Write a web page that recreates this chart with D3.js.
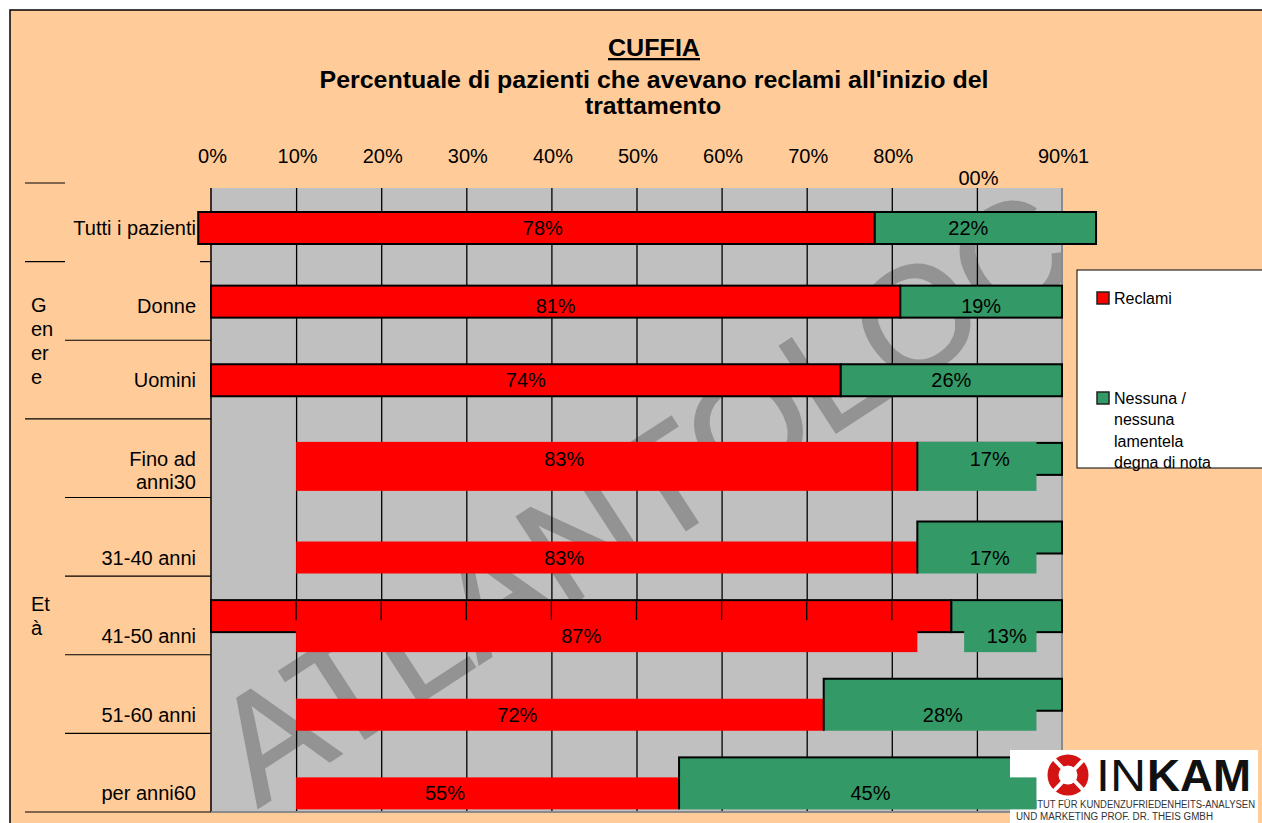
<!DOCTYPE html>
<html>
<head>
<meta charset="utf-8">
<script src="https://cdn.jsdelivr.net/npm/d3@7"></script>
<style>
  body { margin: 0; background: #fff; }
  text { font-family: "Liberation Sans", Arial, sans-serif; fill: #000; }
</style>
</head>
<body>
<script>
// values
var categories = ["Tutti i pazienti", "Donne", "Uomini", "Fino ad\nanni30", "31-40 anni", "41-50 anni", "51-60 anni", "per anni60"];
var reclami = [78, 81, 74, 83, 83, 87, 72, 55];
var nessuna = [22, 19, 26, 17, 17, 13, 28, 45];
var tickValues = [0, 10, 20, 30, 40, 50, 60, 70, 80, 90, 100];
var tickLabels = ["0%", "10%", "20%", "30%", "40%", "50%", "60%", "70%", "80%", "00%", "90%1"];
var groupLabels = [[], ["G", "en", "er", "e"], ["Et", "à"]];
var groupSizes = [1, 2, 5];
var seriesNames = ["Reclami", "Nessuna /\nnessuna\nlamentela\ndegna di nota"];

var RED = "#FF0000", GREEN = "#339966", GRAY = "#C0C0C0", PEACH = "#FFCC99";
var FS = 20;

var svg = d3.select("body").append("svg").attr("width", 1262).attr("height", 823);

svg.append("rect").attr("x", 10).attr("y", 10).attr("width", 1262).attr("height", 823)
    .attr("fill", PEACH).attr("stroke", "#000").attr("stroke-width", 1.5);

var plotTop = 188, plotBottom = 812;
var x = d3.scaleLinear().domain([0, 100]).range([211, 1062]);
var y = d3.scaleBand().domain(categories).range([183, 812]);

// title
svg.append("text").attr("x", 654).attr("y", 56).attr("text-anchor", "middle")
    .attr("font-size", 23).attr("font-weight", "bold").attr("text-decoration", "underline")
    .attr("textLength", 92).attr("lengthAdjust", "spacingAndGlyphs").text("CUFFIA");
svg.append("text").attr("x", 654).attr("y", 88).attr("text-anchor", "middle")
    .attr("font-size", 23).attr("font-weight", "bold")
    .attr("textLength", 669).attr("lengthAdjust", "spacingAndGlyphs")
    .text("Percentuale di pazienti che avevano reclami all'inizio del");
svg.append("text").attr("x", 653).attr("y", 114).attr("text-anchor", "middle")
    .attr("font-size", 23).attr("font-weight", "bold")
    .attr("textLength", 136).attr("lengthAdjust", "spacingAndGlyphs").text("trattamento");

// plot background
svg.append("rect").attr("x", x(0)).attr("y", plotTop).attr("width", x(100) - x(0)).attr("height", plotBottom - plotTop)
    .attr("fill", GRAY);

svg.append("clipPath").attr("id", "plotclip").append("rect")
    .attr("x", x(0)).attr("y", plotTop).attr("width", x(100) - x(0)).attr("height", plotBottom - plotTop);

// watermark
svg.append("g").attr("clip-path", "url(#plotclip)")
  .append("text")
    .attr("transform", "translate(258,808) rotate(-33)")
    .attr("font-size", 150).style("fill", "#939393")
    .attr("stroke", "#939393").attr("stroke-width", 2)
    .attr("textLength", 985).attr("lengthAdjust", "spacing")
    .text("ATLANTOLOC");

// gridlines
var grid = svg.append("g").attr("transform", "translate(0," + plotTop + ")")
    .call(d3.axisTop(x).tickValues(d3.range(10, 100, 10)).tickSize(-(plotBottom - plotTop)).tickFormat(""));
grid.select(".domain").remove();
grid.selectAll("line").attr("stroke", "#000").attr("stroke-width", 1.3);

svg.append("line").attr("x1", x(0)).attr("x2", x(0)).attr("y1", plotTop).attr("y2", plotBottom)
    .attr("stroke", "#000").attr("stroke-width", 1.5);
svg.append("line").attr("x1", x(100)).attr("x2", x(100)).attr("y1", plotTop).attr("y2", plotBottom + 1)
    .attr("stroke", "#8a8a8a").attr("stroke-width", 2);
svg.append("line").attr("x1", x(0)).attr("x2", x(100)).attr("y1", plotBottom).attr("y2", plotBottom)
    .attr("stroke", "#8a8a8a").attr("stroke-width", 2);

// tick labels
var ax = svg.append("g").attr("transform", "translate(1,163)")
    .call(d3.axisTop(x).tickValues(tickValues).tickSize(0).tickPadding(0)
      .tickFormat(function(d, i) { return tickLabels[i]; }));
ax.select(".domain").remove();
ax.selectAll("text").attr("font-size", FS).attr("font-family", "Liberation Sans, Arial, sans-serif")
    .attr("dy", function(d) { return d === 90 ? 22 : 0; });

// row separators and category labels
var bounds = d3.range(categories.length + 1).map(function(i) {
  return i < categories.length ? y(categories[i]) : y.range()[1];
});
var groupStarts = [0];
groupSizes.forEach(function(s, i) { groupStarts.push(groupStarts[i] + s); });

bounds.forEach(function(b, i) {
  var isGroup = groupStarts.indexOf(i) >= 0;
  var x1 = isGroup ? 25 : 65;
  var x2 = (i <= 1) ? 65 : x(0);
  svg.append("line").attr("x1", x1).attr("x2", x2).attr("y1", b).attr("y2", b)
      .attr("stroke", "#000").attr("stroke-width", 1.2);
  if (i === 1) {
    svg.append("line").attr("x1", 200).attr("x2", x(0)).attr("y1", b).attr("y2", b)
        .attr("stroke", "#000").attr("stroke-width", 1.2);
  }
});

groupLabels.forEach(function(lines, gi) {
  if (!lines.length) return;
  var y0 = bounds[groupStarts[gi]], y1 = bounds[groupStarts[gi + 1]];
  var cy = (y0 + y1) / 2 - (lines.length - 1) * 12 + 1;
  svg.append("text").attr("x", 31).attr("font-size", FS)
    .selectAll("tspan").data(lines).enter().append("tspan")
      .attr("x", 31).attr("y", function(d, i) { return cy + i * 24; })
      .attr("dominant-baseline", "central")
      .text(function(d) { return d; });
});

// row layout (the original render has the age rows drawn twice, slightly offset)
function barTop(i) { return y(categories[i]) + (i === 0 ? 29 : 24); }
var barH = 32;
function labelY(i) { return barTop(i) + barH / 2 + (i >= 4 ? 20 : 0) + (i === 1 ? 4 : 0); }

categories.forEach(function(c, i) {
  var lines = c.split("\n");
  var ly = labelY(i);
  svg.append("text").attr("text-anchor", "end").attr("font-size", FS)
    .selectAll("tspan").data(lines).enter().append("tspan")
      .attr("x", 196).attr("y", function(d, k) { return ly + k * 23; })
      .attr("dominant-baseline", "central")
      .text(function(d) { return d; });
});

// main bars
var bars = svg.append("g");
categories.forEach(function(c, i) {
  var t = barTop(i);
  var x0 = i === 0 ? x(-1.5) : x(0);
  var xEnd = i === 0 ? x(104) : x(100);
  var drawRed = (i < 3 || i === 5);
  if (drawRed) {
    bars.append("rect").attr("x", x0).attr("y", t).attr("width", x(reclami[i]) - x0).attr("height", barH)
        .attr("fill", RED).attr("stroke", "#000").attr("stroke-width", 2);
  }
  bars.append("rect").attr("x", x(reclami[i])).attr("y", t).attr("width", xEnd - x(reclami[i])).attr("height", barH)
      .attr("fill", GREEN).attr("stroke", "#000").attr("stroke-width", 2);
});

// logo
var logo = svg.append("g");
logo.append("rect").attr("x", 1010).attr("y", 750).attr("width", 248).attr("height", 73).attr("fill", "#fff");
logo.append("circle").attr("cx", 1068).attr("cy", 775).attr("r", 15)
    .attr("fill", "none").attr("stroke", "#D41414").attr("stroke-width", 11);
logo.append("line").attr("x1", 1052).attr("y1", 757).attr("x2", 1086).attr("y2", 793)
    .attr("stroke", "#fff").attr("stroke-width", 4);
logo.append("line").attr("x1", 1086).attr("y1", 757).attr("x2", 1052).attr("y2", 793)
    .attr("stroke", "#fff").attr("stroke-width", 4);
logo.append("text").attr("x", 1096).attr("y", 791).attr("font-size", 44)
    .attr("textLength", 50).attr("lengthAdjust", "spacingAndGlyphs").style("fill", "#111").text("IN");
logo.append("text").attr("x", 1147).attr("y", 791).attr("font-size", 44).attr("font-weight", "bold")
    .attr("textLength", 104).attr("lengthAdjust", "spacingAndGlyphs").style("fill", "#111").text("KAM");
logo.append("text").attr("x", 1013).attr("y", 808).attr("font-size", 10)
    .attr("textLength", 242).attr("lengthAdjust", "spacingAndGlyphs").style("fill", "#333")
    .text("INSTITUT FÜR KUNDENZUFRIEDENHEITS-ANALYSEN");
logo.append("text").attr("x", 1016).attr("y", 820).attr("font-size", 10)
    .attr("textLength", 197).attr("lengthAdjust", "spacingAndGlyphs").style("fill", "#333")
    .text("UND MARKETING PROF. DR. THEIS GMBH");

// offset copy of the age rows
var ghost = svg.append("g");
categories.forEach(function(c, i) {
  if (i < 3) return;
  var t = i === 3 ? barTop(i) - 1 : barTop(i) + 20;
  var h = i === 3 ? 49 : barH;
  var redEnd = i === 5 ? reclami[i] - 4 : reclami[i];
  var greenStart = i === 5 ? reclami[i] + 1.5 : reclami[i];
  ghost.append("rect").attr("x", x(10)).attr("y", t).attr("width", x(redEnd) - x(10)).attr("height", h)
      .attr("fill", RED);
  ghost.append("rect").attr("x", x(greenStart)).attr("y", t).attr("width", x(97) - x(greenStart)).attr("height", h)
      .attr("fill", GREEN);
  if (i !== 5) {
    ghost.append("line").attr("x1", x(reclami[i])).attr("x2", x(reclami[i])).attr("y1", t).attr("y2", t + h)
        .attr("stroke", "#000").attr("stroke-width", 2);
  }
  if (i === 3 || i === 4) {
    ghost.append("line").attr("x1", x(80)).attr("x2", x(80)).attr("y1", t).attr("y2", t + h)
        .attr("stroke", "#000").attr("stroke-width", 1.3);
  }
  if (i === 5) {
    d3.range(10, 90, 10).forEach(function(v) {
      ghost.append("line").attr("x1", x(v)).attr("x2", x(v)).attr("y1", barTop(i) + 1).attr("y2", t)
          .attr("stroke", "#000").attr("stroke-width", 1.3);
    });
  }
});

// value labels
categories.forEach(function(c, i) {
  var ly = labelY(i);
  svg.append("text").attr("x", (x(0) + x(reclami[i])) / 2).attr("y", ly)
      .attr("text-anchor", "middle").attr("dominant-baseline", "central").attr("font-size", FS)
      .text(reclami[i] + "%");
  svg.append("text").attr("x", (x(reclami[i]) + x(100)) / 2).attr("y", ly)
      .attr("text-anchor", "middle").attr("dominant-baseline", "central").attr("font-size", FS)
      .text(nessuna[i] + "%");
});

// legend
var legend = svg.append("g");
legend.append("rect").attr("x", 1077).attr("y", 270).attr("width", 200).attr("height", 198)
    .attr("fill", "#fff").attr("stroke", "#000").attr("stroke-width", 1);
[RED, GREEN].forEach(function(col, i) {
  var ly = 298 + i * 100;
  legend.append("rect").attr("x", 1097).attr("y", ly - 6).attr("width", 12).attr("height", 12)
      .attr("fill", col).attr("stroke", "#222").attr("stroke-width", 1.5);
  legend.append("text").attr("font-size", 16)
    .selectAll("tspan").data(seriesNames[i].split("\n")).enter().append("tspan")
      .attr("x", 1114).attr("y", function(d, k) { return ly + k * 21.5; })
      .attr("dominant-baseline", "central")
      .text(function(d) { return d; });
});
</script>
</body>
</html>
